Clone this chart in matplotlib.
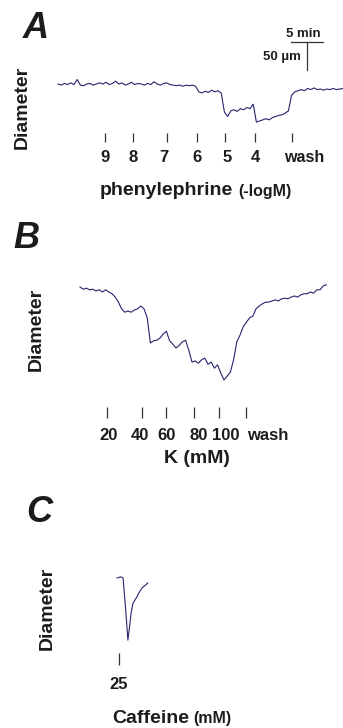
import matplotlib
matplotlib.use("Agg")
import matplotlib.pyplot as plt
from matplotlib import font_manager

# ---- data (time in min, diameter change in um relative to start) ----
# A: phenylephrine
a_time = [0.5 * i for i in range(90)]
a_diam = [0, -2, 1, -1, 2, -1, 8, -2, -3, 0,
          1, -2, 0, 2, 0, 3, -1, 1, 5, 0,
          2, -2, 0, 3, -1, 1, 0, -2, 1, -1,
          4, 0, -2, 1, 2, -1, -2, -3, -2, -4,
          -2, -3, -2, -4, -14, -16, -13, -15, -11, -14,
          -12, -16, -50, -58, -48, -46, -49, -44, -46, -42,
          -44, -36, -68, -66, -64, -62, -64, -60, -58, -56,
          -55, -52, -48, -20, -14, -12, -10, -12, -8, -10,
          -7, -10, -9, -11, -9, -10, -8, -10, -9, -8]
a_stim_time = [7.3, 11.7, 17.0, 21.7, 26.1, 30.8, 36.6]
a_stim_label = ["9", "8", "7", "6", "5", "4", "wash"]

# B: K+
b_time = [0.5 * i for i in range(78)]
b_diam = [0, -4, -2, -5, -4, -7, -5, -9, -5, -9,
          -12, -18, -27, -39, -45, -43, -45, -41, -39, -34,
          -39, -55, -100, -96, -95, -91, -84, -79, -96, -102,
          -109, -104, -98, -95, -113, -134, -132, -136, -130, -127,
          -138, -134, -145, -139, -154, -166, -159, -152, -130, -98,
          -86, -71, -63, -55, -52, -39, -34, -30, -27, -27,
          -25, -23, -25, -21, -20, -21, -18, -16, -18, -14,
          -12, -12, -9, -11, -5, -5, 2, 4]
b_stim_time = [4.2, 9.7, 13.4, 17.8, 21.7, 26.0]
b_stim_label = ["20", "40", "60", "80", "100", "wash"]

# C: caffeine
c_time = [0, 0.6, 0.95, 1.1, 1.3, 1.5, 1.7, 1.9, 2.2, 2.5, 3.1, 3.4, 3.9, 4.4, 4.8]
c_diam = [0, 2, 0, -21, -48, -79, -111, -93, -63, -45, -34, -27, -18, -13, -9]
c_stim_time = [0.3]
c_stim_label = ["25"]

W, H = 343, 728
PX_PER_MIN = 6.4
PX_PER_UM = 0.56
TRACE = "#25256e"
INK = "#1c1c1c"

# the original lettering is tall and narrow; use a narrow face if there is one
installed = {f.name for f in font_manager.fontManager.ttflist}
if "Liberation Sans Narrow" in installed:
    plt.rcParams["font.family"] = ["Liberation Sans Narrow", "DejaVu Sans"]
    K = 1.2
else:
    plt.rcParams["font.family"] = ["Liberation Sans", "DejaVu Sans"]
    K = 1.0

fig = plt.figure(figsize=(W / 100, H / 100), dpi=100)


def panel(top, bottom, x0, y0):
    """axes spanning a horizontal band, x0/y0 = pixel pos of (t=0, d=0)"""
    ax = fig.add_axes([0, 1 - bottom / H, 1, (bottom - top) / H])
    ax.set_xlim(-x0 / PX_PER_MIN, (W - x0) / PX_PER_MIN)
    ax.set_ylim(-(bottom - y0) / PX_PER_UM, (y0 - top) / PX_PER_UM)
    ax.axis("off")
    return ax


def ftext(x, y, s, size, **kw):
    kw.setdefault("color", INK)
    kw.setdefault("fontweight", "bold")
    fig.text(x / W, 1 - y / H, s, fontsize=size * K, **kw)


def stim_ticks(ax, y0, times, top, bottom):
    ax.vlines(times, (y0 - bottom) / PX_PER_UM, (y0 - top) / PX_PER_UM,
              color="#333333", lw=0.9)


# ---- A ----
axA = panel(0, 200, 58, 84)
axA.plot(a_time, a_diam, color=TRACE, lw=0.8)
stim_ticks(axA, 84, a_stim_time, 133, 142)
# scale bar: 5 min x 50 um
axA.plot([36.4, 41.4], [75, 75], color="#333333", lw=0.9)
axA.plot([38.9, 38.9], [75, 25], color="#333333", lw=0.9)
ftext(303, 37, "5 min", 9.5, ha="center", va="baseline")
ftext(301, 60, "50 µm", 9.5, ha="right", va="baseline")
for lx, lab in zip([105, 133, 164, 197, 227, 255, 304], a_stim_label):
    ftext(lx, 162, lab, 12 if lab != "wash" else 11.5,
          ha="center", va="baseline")
ftext(100, 195, "phenylephrine", 14, ha="left", va="baseline")
ftext(238, 196, "(-logM)", 11.5, ha="left", va="baseline")
ftext(22, 107, "Diameter", 14, rotation=90, ha="center", va="center")
ftext(36, 28, "A", 26, fontstyle="italic", ha="center", va="center")

# ---- B ----
axB = panel(200, 470, 80, 287)
axB.plot(b_time, b_diam, color=TRACE, lw=0.8)
stim_ticks(axB, 287, b_stim_time, 407, 418)
for lx, lab in zip([109, 140, 167, 199, 226, 268], b_stim_label):
    ftext(lx, 440, lab, 12, ha="center", va="baseline")
ftext(197, 463, "K (mM)", 14, ha="center", va="baseline")
ftext(36, 329, "Diameter", 14, rotation=90, ha="center", va="center")
ftext(26, 239, "B", 26, fontstyle="italic", ha="center", va="center")

# ---- C ----
axC = panel(470, 728, 117, 578)
axC.plot(c_time, c_diam, color=TRACE, lw=0.8)
stim_ticks(axC, 578, c_stim_time, 653, 665)
ftext(119, 689, c_stim_label[0], 12, ha="center", va="baseline")
ftext(112, 723, "Caffeine", 14, ha="left", va="baseline")
ftext(193, 723, "(mM)", 11.5, ha="left", va="baseline")
ftext(47, 608, "Diameter", 14, rotation=90, ha="center", va="center")
ftext(39, 512, "C", 26, fontstyle="italic", ha="center", va="center")

fig.savefig("out.png", dpi=100)
